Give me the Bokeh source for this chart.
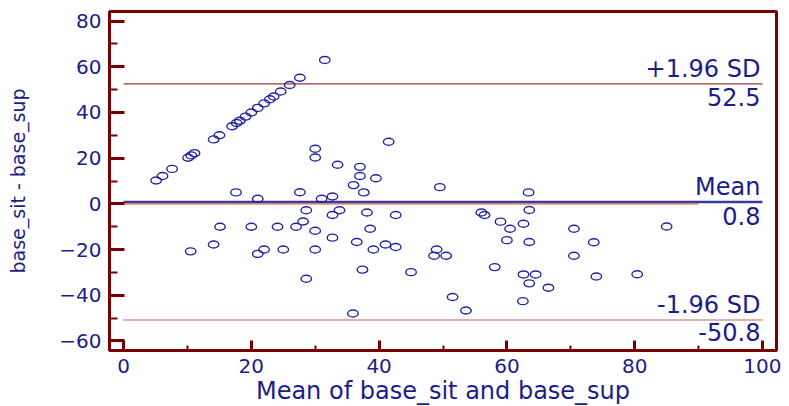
from bokeh.plotting import figure
from bokeh.models import Range1d, FixedTicker, ColumnDataSource
from bokeh.core.properties import value
from bokeh.embed import file_html
from bokeh.resources import INLINE

# ---- data ----
x_mean = [5.1, 6.1, 7.6, 10.1, 10.6, 11.1, 14.1, 15.0, 17.0, 17.7, 18.2, 19.1, 20.0, 21.0, 22.0, 22.9, 23.5, 24.6, 26.0, 27.6, 31.5,
          30.0, 30.0, 33.5, 37.0, 37.0, 39.5, 36.0, 41.5, 49.5, 27.6, 37.6, 17.6, 21.0, 31.0, 32.7, 63.4,
          28.6, 33.8, 32.7, 28.1, 27.0, 24.1, 20.0, 15.1, 30.0, 32.7, 36.5, 14.1, 10.5, 21.0, 22.0, 25.0, 30.0, 28.6, 35.9, 37.4,
          38.1, 42.6, 56.0, 56.5, 63.5, 59.0, 62.6, 60.5, 38.6, 39.1, 41.0, 42.6, 49.0, 48.6, 50.5, 60.0, 63.5, 45.0, 58.1, 62.6,
          64.5, 63.5, 51.5, 62.5, 53.6, 70.5, 85.0, 73.6, 70.5, 74.0, 80.4, 66.5]
y_diff = [10.2, 12.2, 15.3, 20.2, 21.2, 22.2, 28.2, 30.0, 34.0, 35.4, 36.4, 38.2, 40.0, 42.0, 44.0, 45.8, 47.0, 49.2, 52.0, 55.2, 63.0,
          24.1, 20.3, 17.1, 16.2, 12.2, 11.2, 8.2, 27.2, 7.3, 5.1, 5.0, 5.0, 2.2, 2.2, 3.2, 5.0,
          -2.8, -2.8, -4.9, -7.7, -10.0, -10.0, -10.0, -10.0, -11.8, -14.8, -16.7, -17.8, -20.8, -21.9, -20.0, -20.0, -20.0, -32.8, -48.0, -28.8,
          -3.8, -4.9, -3.8, -4.9, -2.7, -7.8, -8.7, -10.9, -10.9, -20.0, -17.8, -18.9, -20.0, -22.7, -22.7, -15.9, -16.7, -29.9, -27.7, -30.9,
          -30.9, -34.8, -40.8, -42.6, -46.7, -10.9, -9.9, -16.8, -22.7, -31.8, -30.8, -36.7]

mean_diff = 0.8
upper_sd = 52.5
lower_sd = -50.8
line_x = [0, 100]
zero_line_x = [0, 90]
zero_line_y = 0

x_ticks = [0, 20, 40, 60, 80, 100]
x_minor = [10, 30, 50, 70, 90]
y_ticks = [-60, -40, -20, 0, 20, 40, 60, 80]
y_minor = [-50, -30, -10, 10, 30, 50, 70]

label_texts = ["+1.96 SD", "52.5", "Mean", "0.8", "-1.96 SD", "-50.8"]
label_y = [upper_sd, upper_sd, mean_diff, mean_diff, lower_sd, lower_sd]

# ---- styles ----
NAVY = "#1c1c8c"
MAROON = "#7a0000"
FONT = "DejaVu Sans"

p = figure(frame_width=667, frame_height=339,
           x_range=Range1d(-2.2, 102.2), y_range=Range1d(-64.2, 84.2),
           output_backend="svg", toolbar_location=None,
           min_border_left=109, min_border_right=13, min_border_top=11, min_border_bottom=56)
p.grid.visible = False
p.outline_line_color = MAROON
p.outline_line_width = 3
p.background_fill_color = "white"
p.border_fill_color = "white"

for ax, tk, mn, tin, min_in in ((p.xaxis[0], x_ticks, x_minor, 10, 5), (p.yaxis[0], y_ticks, y_minor, 15, 8)):
    ax.ticker = FixedTicker(ticks=tk, minor_ticks=mn)
    ax.axis_line_color = MAROON
    ax.axis_line_width = 3
    ax.major_tick_line_color = MAROON
    ax.major_tick_line_width = 3
    ax.minor_tick_line_color = MAROON
    ax.minor_tick_line_width = 2
    ax.major_tick_in = tin
    ax.major_tick_out = 0
    ax.minor_tick_in = min_in
    ax.minor_tick_out = 0
    ax.major_label_text_color = NAVY
    ax.major_label_text_font = FONT
    ax.major_label_text_font_size = "20px"
    ax.axis_label_text_color = NAVY
    ax.axis_label_text_font = FONT
    ax.axis_label_text_font_style = "normal"

p.xaxis.axis_label = "Mean of base_sit and base_sup"
p.xaxis.axis_label_text_font_size = "24px"
p.xaxis.major_label_standoff = 8
p.xaxis.axis_label_standoff = 1

p.yaxis.axis_label = "base_sit - base_sup"
p.yaxis.axis_label_text_font_size = "19px"
p.yaxis.major_label_standoff = 8
p.yaxis.axis_label_standoff = 27

# reference lines
p.line(zero_line_x, [zero_line_y] * 2, line_color="#f6a678", line_width=2.5)
p.line(line_x, [mean_diff] * 2, line_color="#3a3aa2", line_width=2.5)
p.line(line_x, [upper_sd] * 2, line_color="#800000", line_width=1)
p.line(line_x, [lower_sd] * 2, line_color="#b86a6a", line_width=2, line_dash="1 1")

# points
src = ColumnDataSource(dict(x=x_mean, y=y_diff))
p.ellipse(x="x", y="y", width=10.5, height=7, width_units="screen", height_units="screen",
          fill_color=None, line_color="#2424a0", line_width=1.4, source=src)

# annotations
lsrc = ColumnDataSource(dict(x=[100] * 6, y=label_y, text=label_texts,
                             yo=[-15, 13, -15, 14, -15, 12]))
p.text(x="x", y="y", text="text", y_offset="yo", x_offset=-2, source=lsrc,
       text_align="right", text_baseline="alphabetic",
       text_font=value(FONT), text_font_size=value("24px"), text_color=NAVY)

open("out.html", "w").write(file_html(p, INLINE))
